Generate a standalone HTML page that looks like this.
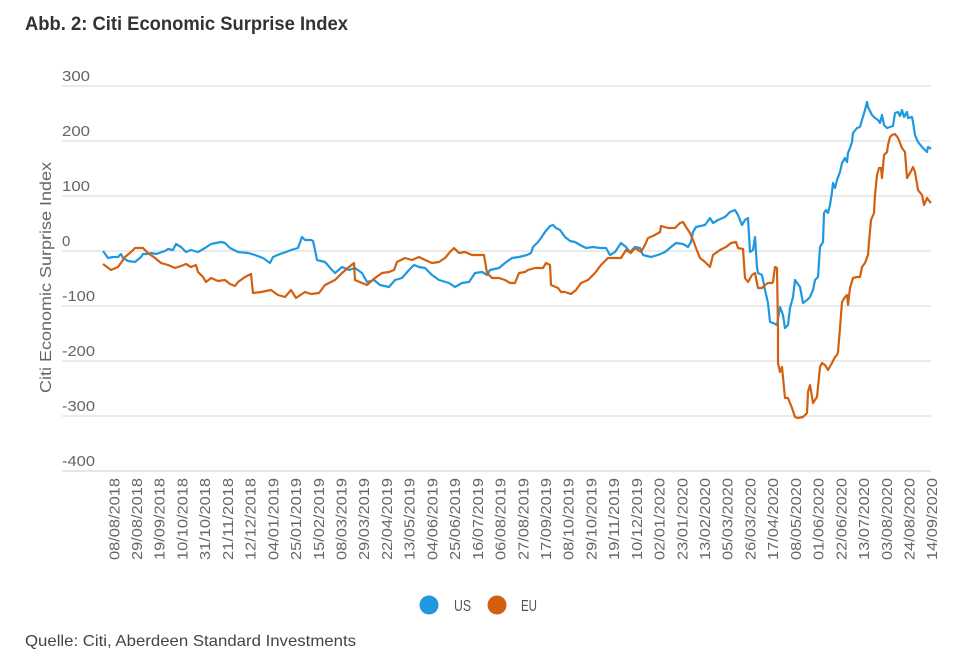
<!DOCTYPE html>
<html><head><meta charset="utf-8"><style>
html,body{margin:0;padding:0;background:#fff;}
svg{display:block;font-family:"Liberation Sans",sans-serif;}
</style></head><body>
<svg width="958" height="657" viewBox="0 0 958 657" xmlns="http://www.w3.org/2000/svg">
<rect width="958" height="657" fill="#fff"/>
<text x="25" y="30" font-size="19" font-weight="bold" fill="#333" textLength="323" lengthAdjust="spacingAndGlyphs">Abb. 2: Citi Economic Surprise Index</text>
<g stroke="#dedede" stroke-width="1.3">
<line x1="62" y1="86" x2="931" y2="86"/><line x1="62" y1="141" x2="931" y2="141"/><line x1="62" y1="196" x2="931" y2="196"/><line x1="62" y1="251" x2="931" y2="251"/><line x1="62" y1="306" x2="931" y2="306"/><line x1="62" y1="361" x2="931" y2="361"/><line x1="62" y1="416" x2="931" y2="416"/><line x1="62" y1="471" x2="931" y2="471" stroke="#d6d6d6"/>
</g>
<g font-size="15" fill="#666">
<text x="62" y="81" textLength="28" lengthAdjust="spacingAndGlyphs">300</text>
<text x="62" y="136" textLength="28" lengthAdjust="spacingAndGlyphs">200</text>
<text x="62" y="191" textLength="28" lengthAdjust="spacingAndGlyphs">100</text>
<text x="62" y="246">0</text>
<text x="62" y="301" textLength="33" lengthAdjust="spacingAndGlyphs">-100</text>
<text x="62" y="356" textLength="33" lengthAdjust="spacingAndGlyphs">-200</text>
<text x="62" y="411" textLength="33" lengthAdjust="spacingAndGlyphs">-300</text>
<text x="62" y="466" textLength="33" lengthAdjust="spacingAndGlyphs">-400</text>
</g>
<text x="51" y="277.5" font-size="16" fill="#666" text-anchor="middle" transform="rotate(-90 51 277.5)" textLength="231" lengthAdjust="spacingAndGlyphs">Citi Economic Surprise Index</text>
<g font-size="15" fill="#666" text-anchor="end">
<text x="119.3" y="478" transform="rotate(-90 119.3 478)" textLength="82" lengthAdjust="spacingAndGlyphs">08/08/2018</text>
<text x="142.0" y="478" transform="rotate(-90 142.0 478)" textLength="82" lengthAdjust="spacingAndGlyphs">29/08/2018</text>
<text x="164.7" y="478" transform="rotate(-90 164.7 478)" textLength="82" lengthAdjust="spacingAndGlyphs">19/09/2018</text>
<text x="187.5" y="478" transform="rotate(-90 187.5 478)" textLength="82" lengthAdjust="spacingAndGlyphs">10/10/2018</text>
<text x="210.2" y="478" transform="rotate(-90 210.2 478)" textLength="82" lengthAdjust="spacingAndGlyphs">31/10/2018</text>
<text x="232.9" y="478" transform="rotate(-90 232.9 478)" textLength="82" lengthAdjust="spacingAndGlyphs">21/11/2018</text>
<text x="255.6" y="478" transform="rotate(-90 255.6 478)" textLength="82" lengthAdjust="spacingAndGlyphs">12/12/2018</text>
<text x="278.3" y="478" transform="rotate(-90 278.3 478)" textLength="82" lengthAdjust="spacingAndGlyphs">04/01/2019</text>
<text x="301.1" y="478" transform="rotate(-90 301.1 478)" textLength="82" lengthAdjust="spacingAndGlyphs">25/01/2019</text>
<text x="323.8" y="478" transform="rotate(-90 323.8 478)" textLength="82" lengthAdjust="spacingAndGlyphs">15/02/2019</text>
<text x="346.5" y="478" transform="rotate(-90 346.5 478)" textLength="82" lengthAdjust="spacingAndGlyphs">08/03/2019</text>
<text x="369.2" y="478" transform="rotate(-90 369.2 478)" textLength="82" lengthAdjust="spacingAndGlyphs">29/03/2019</text>
<text x="391.9" y="478" transform="rotate(-90 391.9 478)" textLength="82" lengthAdjust="spacingAndGlyphs">22/04/2019</text>
<text x="414.7" y="478" transform="rotate(-90 414.7 478)" textLength="82" lengthAdjust="spacingAndGlyphs">13/05/2019</text>
<text x="437.4" y="478" transform="rotate(-90 437.4 478)" textLength="82" lengthAdjust="spacingAndGlyphs">04/06/2019</text>
<text x="460.1" y="478" transform="rotate(-90 460.1 478)" textLength="82" lengthAdjust="spacingAndGlyphs">25/06/2019</text>
<text x="482.8" y="478" transform="rotate(-90 482.8 478)" textLength="82" lengthAdjust="spacingAndGlyphs">16/07/2019</text>
<text x="505.5" y="478" transform="rotate(-90 505.5 478)" textLength="82" lengthAdjust="spacingAndGlyphs">06/08/2019</text>
<text x="528.3" y="478" transform="rotate(-90 528.3 478)" textLength="82" lengthAdjust="spacingAndGlyphs">27/08/2019</text>
<text x="551.0" y="478" transform="rotate(-90 551.0 478)" textLength="82" lengthAdjust="spacingAndGlyphs">17/09/2019</text>
<text x="573.7" y="478" transform="rotate(-90 573.7 478)" textLength="82" lengthAdjust="spacingAndGlyphs">08/10/2019</text>
<text x="596.4" y="478" transform="rotate(-90 596.4 478)" textLength="82" lengthAdjust="spacingAndGlyphs">29/10/2019</text>
<text x="619.1" y="478" transform="rotate(-90 619.1 478)" textLength="82" lengthAdjust="spacingAndGlyphs">19/11/2019</text>
<text x="641.9" y="478" transform="rotate(-90 641.9 478)" textLength="82" lengthAdjust="spacingAndGlyphs">10/12/2019</text>
<text x="664.6" y="478" transform="rotate(-90 664.6 478)" textLength="82" lengthAdjust="spacingAndGlyphs">02/01/2020</text>
<text x="687.3" y="478" transform="rotate(-90 687.3 478)" textLength="82" lengthAdjust="spacingAndGlyphs">23/01/2020</text>
<text x="710.0" y="478" transform="rotate(-90 710.0 478)" textLength="82" lengthAdjust="spacingAndGlyphs">13/02/2020</text>
<text x="732.7" y="478" transform="rotate(-90 732.7 478)" textLength="82" lengthAdjust="spacingAndGlyphs">05/03/2020</text>
<text x="755.5" y="478" transform="rotate(-90 755.5 478)" textLength="82" lengthAdjust="spacingAndGlyphs">26/03/2020</text>
<text x="778.2" y="478" transform="rotate(-90 778.2 478)" textLength="82" lengthAdjust="spacingAndGlyphs">17/04/2020</text>
<text x="800.9" y="478" transform="rotate(-90 800.9 478)" textLength="82" lengthAdjust="spacingAndGlyphs">08/05/2020</text>
<text x="823.6" y="478" transform="rotate(-90 823.6 478)" textLength="82" lengthAdjust="spacingAndGlyphs">01/06/2020</text>
<text x="846.3" y="478" transform="rotate(-90 846.3 478)" textLength="82" lengthAdjust="spacingAndGlyphs">22/06/2020</text>
<text x="869.1" y="478" transform="rotate(-90 869.1 478)" textLength="82" lengthAdjust="spacingAndGlyphs">13/07/2020</text>
<text x="891.8" y="478" transform="rotate(-90 891.8 478)" textLength="82" lengthAdjust="spacingAndGlyphs">03/08/2020</text>
<text x="914.5" y="478" transform="rotate(-90 914.5 478)" textLength="82" lengthAdjust="spacingAndGlyphs">24/08/2020</text>
<text x="937.2" y="478" transform="rotate(-90 937.2 478)" textLength="82" lengthAdjust="spacingAndGlyphs">14/09/2020</text>
</g>
<polyline fill="none" stroke="#1f98e0" stroke-width="2.2" stroke-linejoin="round" points="103,251 108,258 113,257 118,257 121,254 123,258 128,261 135,262 141,257 143,254 148,254 151,253 156,254 165,251 168,249 173,250 176,244 181,247 186,252 191,250 198,252 205,248 211,244 221,242 225,243 230,248 238,252 248,253 255,255 263,258 270,263 273,257 280,254 286,252 291,250 298,248 302,237 305,240 311,240 313,241 315,250 317,260 325,262 332,270 335,273 342,267 349,270 355,268 362,273 367,282 374,280 380,285 389,287 395,280 402,278 409,270 414,265 419,267 425,268 432,275 439,280 449,283 455,287 462,283 469,282 475,273 482,272 487,275 490,270 499,268 505,263 512,258 519,257 527,255 531,253 533,247 538,242 541,238 545,232 550,226 553,225 556,228 560,230 565,237 570,241 575,242 580,245 586,248 593,247 600,248 606,248 610,255 615,252 621,243 626,247 630,252 635,247 640,248 643,255 651,257 658,255 665,252 671,247 676,243 683,244 688,247 691,242 693,232 696,227 705,225 710,218 713,223 718,220 725,217 730,212 735,210 738,215 742,225 745,220 748,218 750,252 753,250 755,237 757,267 758,273 762,275 765,290 768,303 770,322 773,323 777,325 780,307 783,315 785,328 788,325 790,308 793,297 795,280 800,287 803,303 807,300 810,297 813,290 815,280 818,277 820,247 823,242 824,213 826,210 828,213 830,205 832,192 833,183 835,188 837,180 840,172 842,163 845,158 847,162 848,153 850,148 852,142 853,133 857,128 860,127 862,120 865,110 867,102 868,107 872,115 875,118 878,120 880,123 882,115 884,125 887,128 890,127 893,126 895,113 898,112 900,116 902,110 904,117 907,112 908,118 912,117 913,122 915,135 918,142 922,147 925,150 927,152 928,147 930,148 931,149"/>
<polyline fill="none" stroke="#d2600f" stroke-width="2.2" stroke-linejoin="round" points="103,264 111,270 118,267 125,257 131,252 135,248 143,248 148,253 155,258 161,263 168,265 175,268 181,266 186,264 191,267 196,265 198,272 203,277 206,282 211,278 218,281 225,280 230,284 235,286 238,282 245,277 251,274 253,293 261,292 271,290 278,295 285,297 291,290 296,298 305,292 311,294 319,293 325,285 335,280 342,273 349,267 354,263 355,280 362,283 367,285 375,278 382,273 389,272 394,270 397,262 405,258 412,260 419,257 425,260 432,263 439,262 445,258 450,252 454,248 459,253 465,252 472,255 479,255 484,255 487,273 492,278 499,278 505,280 510,283 515,283 519,273 525,272 528,270 535,268 543,268 546,263 550,265 551,285 558,288 561,292 565,292 571,294 576,290 581,283 588,280 595,273 601,265 608,258 615,258 621,258 626,250 631,253 635,248 641,252 645,245 648,238 655,235 660,232 661,226 668,228 675,228 680,223 683,222 686,227 690,233 693,240 696,248 700,258 705,262 710,267 713,255 720,250 726,247 731,243 736,242 738,248 743,249 745,278 748,282 752,275 755,273 758,288 762,288 765,285 768,283 772,283 773,282 775,267 777,268 778,330 778,363 780,372 782,367 785,398 788,398 792,408 795,417 798,418 803,417 807,413 808,392 810,385 813,403 817,397 820,367 822,363 825,365 828,370 832,363 835,357 837,355 838,352 840,328 842,302 845,297 847,295 848,305 850,288 853,278 857,277 860,277 862,267 865,263 868,255 869,242 871,220 874,213 875,195 877,175 879,168 881,168 882,178 884,155 887,152 888,145 890,137 892,135 895,134 898,138 902,148 905,152 907,178 910,173 913,167 915,172 918,190 922,195 924,205 927,198 930,202 931,203"/>
<circle cx="429" cy="605" r="9.5" fill="#1f98e0"/>
<text x="454" y="611" font-size="16" fill="#555" textLength="17" lengthAdjust="spacingAndGlyphs">US</text>
<circle cx="497" cy="605" r="9.5" fill="#d2600f"/>
<text x="521" y="611" font-size="16" fill="#555" textLength="16" lengthAdjust="spacingAndGlyphs">EU</text>
<text x="25" y="646" font-size="16" fill="#444" textLength="331" lengthAdjust="spacingAndGlyphs">Quelle: Citi, Aberdeen Standard Investments</text>
</svg>
</body></html>
